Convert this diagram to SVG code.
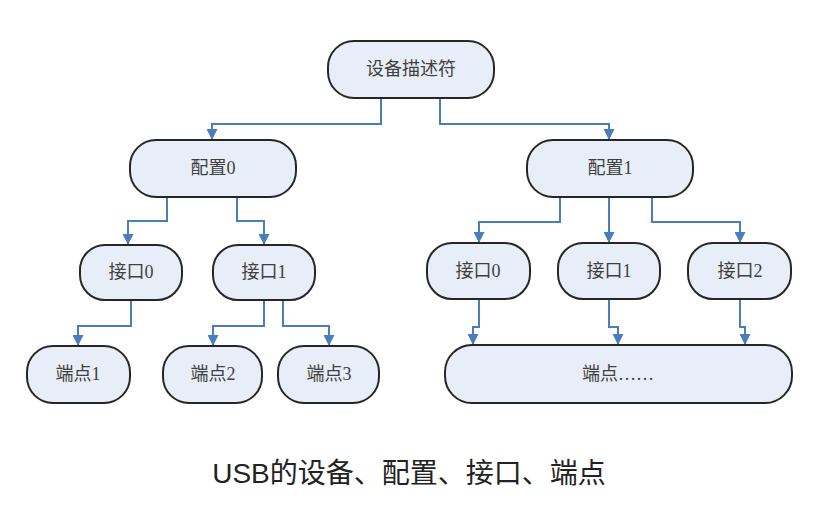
<svg xmlns="http://www.w3.org/2000/svg" width="834" height="506" viewBox="0 0 834 506">
<defs>
<marker id="arr" viewBox="0 0 10 10" refX="10" refY="5" markerWidth="12" markerHeight="11" markerUnits="userSpaceOnUse" orient="auto">
<path d="M0,0 L10,5 L0,10 z" fill="#4a7ebb"/>
</marker>
<style>
.n rect{fill:#e8eef7;stroke:#262626;stroke-width:2}
.n text{font-family:"Liberation Serif","Noto Sans CJK SC",serif;font-size:18px;fill:#404040;text-anchor:middle;dominant-baseline:central}
.c path{fill:none;stroke:#4a7ebb;stroke-width:2;marker-end:url(#arr)}
.cap{font-family:"Liberation Sans","Noto Sans CJK SC",sans-serif;font-size:28px;fill:#222;text-anchor:middle}
</style>
</defs>
<rect width="834" height="506" fill="#fff"/>
<g class="c">
<path d="M381,98 V124 H212 V140"/>
<path d="M440,98 V124 H609 V140"/>
<path d="M167,197 V221 H128 V245"/>
<path d="M237,197 V221 H264 V245"/>
<path d="M560,197 V222 H479 V243"/>
<path d="M609,197 V243"/>
<path d="M652,197 V222 H740 V243"/>
<path d="M131,300 V326 H78 V346"/>
<path d="M264,300 V326 H213 V346"/>
<path d="M283,300 V326 H329 V346"/>
<path d="M479,299 V327 H473 V345"/>
<path d="M609,299 V327 H618 V345"/>
<path d="M740,299 V327 H745 V345"/>
</g>
<g id="root" class="n"><rect x="328" y="41" width="166" height="57" rx="26"/><text x="411" y="69">设备描述符</text></g>
<g id="cfg0" class="n"><rect x="130" y="140" width="166" height="57" rx="26"/><text x="213" y="168">配置0</text></g>
<g id="cfg1" class="n"><rect x="527" y="140" width="166" height="57" rx="26"/><text x="610" y="168">配置1</text></g>
<g id="if00" class="n"><rect x="80" y="245" width="102" height="55" rx="25"/><text x="131" y="272">接口0</text></g>
<g id="if01" class="n"><rect x="213" y="245" width="102" height="55" rx="25"/><text x="264" y="272">接口1</text></g>
<g id="if10" class="n"><rect x="427" y="243" width="103" height="56" rx="25"/><text x="478" y="271">接口0</text></g>
<g id="if11" class="n"><rect x="558" y="243" width="102" height="56" rx="25"/><text x="609" y="271">接口1</text></g>
<g id="if12" class="n"><rect x="688" y="243" width="103" height="56" rx="25"/><text x="740" y="271">接口2</text></g>
<g id="ep1" class="n"><rect x="27" y="346" width="103" height="57" rx="26"/><text x="78" y="374">端点1</text></g>
<g id="ep2" class="n"><rect x="163" y="346" width="99" height="57" rx="26"/><text x="213" y="374">端点2</text></g>
<g id="ep3" class="n"><rect x="278" y="346" width="101" height="57" rx="26"/><text x="329" y="374">端点3</text></g>
<g id="epx" class="n"><rect x="445" y="345" width="347" height="58" rx="27"/><text x="618" y="374">端点……</text></g>
<text class="cap" x="409" y="483">USB的设备、配置、接口、端点</text>
</svg>
